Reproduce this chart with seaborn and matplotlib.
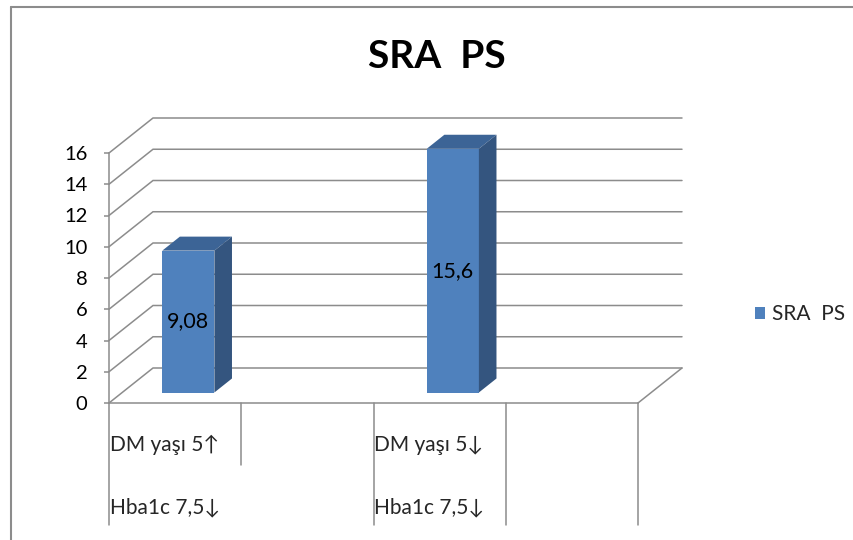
import matplotlib
matplotlib.use("Agg")
import matplotlib.pyplot as plt
import seaborn as sns
import pandas as pd
from matplotlib.patches import Polygon, Patch
from matplotlib.lines import Line2D
from matplotlib.transforms import blended_transform_factory

# ---- data -------------------------------------------------------------
series_name = "SRA  PS"
title_text = "SRA  PS"
inner_labels = ["DM yaşı 5↑", "DM yaşı 5↓"]
outer_labels = ["Hba1c 7,5↓", "Hba1c 7,5↓"]
values = [9.08, 15.6]
value_labels = ["9,08", "15,6"]
y_ticks = [0, 2, 4, 6, 8, 10, 12, 14, 16]

# each outer group holds two category slots; the first slot carries the bar
slot_order = ["g0a", "g0b", "g1a", "g1b"]
df = pd.DataFrame({"slot": ["g0a", "g1a"], "value": values})

# ---- style ------------------------------------------------------------
FRONT = "#4F81BD"
SIDE = "#34557F"
TOP = "#3C6496"
GRID = "#8C8C8C"
W, H, DPI = 854, 540, 100

sns.set_theme(style="white")
plt.rcParams["font.family"] = ["Lato", "DejaVu Sans"]

fig = plt.figure(figsize=(W / DPI, H / DPI), dpi=DPI)
ax_left, ax_right, ax_top, ax_bottom = 109, 638, 153, 403
ax = fig.add_axes([ax_left / W, (H - ax_bottom) / H,
                   (ax_right - ax_left) / W, (ax_bottom - ax_top) / H])

sns.barplot(data=df, x="slot", y="value", order=slot_order, color=FRONT,
            saturation=1, width=0.394, ax=ax, zorder=3)
ax.set_xlim(-0.5, 3.5)
ax.set_ylim(0, 16)
ax.set_xlabel("")
ax.set_ylabel("")
ax.set_xticks([])

# depth vector of the 3-D box, in data units
px_per_x = (ax_right - ax_left) / 4.0
px_per_y = (ax_bottom - ax_top) / 16.0
DX = 44 / px_per_x
DY = 35 / px_per_y

# back wall gridlines with their diagonal connectors
for v in y_ticks:
    ax.plot([-0.5, -0.5 + DX, 3.5 + DX], [v, v + DY, v + DY],
            color=GRID, lw=1.1, clip_on=False, zorder=1, solid_joinstyle="miter")
ax.plot([3.5, 3.5 + DX], [0, DY], color=GRID, lw=1.1, clip_on=False, zorder=1)

# extrude bars into boxes
f0, fd = 0.3, 0.4
bars = [p for p in ax.patches if p.get_height() == p.get_height() and p.get_height() > 0]
for p, lab in zip(bars, value_labels):
    x0, w, h = p.get_x(), p.get_width(), p.get_height()
    fx, fy = x0 + f0 * DX, f0 * DY
    p.set_x(fx)
    p.set_y(fy)
    p.set_clip_on(False)
    p.set_edgecolor("none")
    top = Polygon([(fx, fy + h), (fx + w, fy + h),
                   (fx + w + fd * DX, fy + h + fd * DY), (fx + fd * DX, fy + h + fd * DY)],
                  closed=True, facecolor=TOP, edgecolor="none", clip_on=False, zorder=3)
    side = Polygon([(fx + w, fy), (fx + w + fd * DX, fy + fd * DY),
                    (fx + w + fd * DX, fy + h + fd * DY), (fx + w, fy + h)],
                   closed=True, facecolor=SIDE, edgecolor="none", clip_on=False, zorder=3)
    ax.add_patch(top)
    ax.add_patch(side)
    ax.text(fx + w / 2, fy + h / 2, lab, ha="center", va="center",
            fontsize=15.5, color="black", zorder=4)

# axes lines
for s in ["top", "right"]:
    ax.spines[s].set_visible(False)
for s in ["left", "bottom"]:
    ax.spines[s].set_visible(True)
    ax.spines[s].set_color(GRID)
    ax.spines[s].set_linewidth(1.1)
    ax.spines[s].set_zorder(2)
ax.set_yticks(y_ticks)
ax.set_yticklabels([str(t) for t in y_ticks])
ax.tick_params(axis="y", left=True, length=3.6, width=1.1, color=GRID,
               pad=12, labelsize=14.5, labelcolor="black")
ax.patch.set_alpha(0)

# multi-level category axis: divider lines and labels
btf = blended_transform_factory(ax.transData, fig.transFigure)
floor_y = (H - ax_bottom) / H
short_y = (H - 465) / H
long_y = (H - 525) / H
for xd, yb in zip([-0.5, 0.5, 1.5, 2.5, 3.5], [long_y, short_y, long_y, long_y, long_y]):
    ax.add_line(Line2D([xd, xd], [floor_y, yb], transform=btf, color=GRID,
                       lw=1.1, clip_on=False))

inner_y = (H - 445) / H
outer_y = (H - 507) / H
for g, (inn, out) in enumerate(zip(inner_labels, outer_labels)):
    xl = -0.5 + 2 * g
    ax.annotate(inn, xy=(xl, inner_y), xycoords=btf, xytext=(1, 0),
                textcoords="offset pixels", ha="left", va="center", fontsize=15)
    ax.annotate(out, xy=(xl, outer_y), xycoords=btf, xytext=(1, 0),
                textcoords="offset pixels", ha="left", va="center", fontsize=15)

# title
fig.text(437 / W, (H - 68) / H, title_text, ha="center", va="baseline",
         fontsize=28, fontweight="bold", color="black")

# legend
handle = Patch(facecolor=FRONT, edgecolor="none", label=series_name)
fig.legend(handles=[handle], loc="center left", bbox_to_anchor=(755 / W, (H - 314) / H),
           frameon=False, fontsize=15, handlelength=0.5, handleheight=0.5,
           handletextpad=0.3, borderpad=0, borderaxespad=0)

# chart frame (left and top edges visible)
fig.add_artist(Line2D([11.5 / W, 11.5 / W], [0, (H - 6.5) / H],
                      transform=fig.transFigure, color=GRID, lw=1.5))
fig.add_artist(Line2D([11.5 / W, 1], [(H - 6.5) / H, (H - 6.5) / H],
                      transform=fig.transFigure, color=GRID, lw=1.5))

fig.savefig("out.png", dpi=DPI)
